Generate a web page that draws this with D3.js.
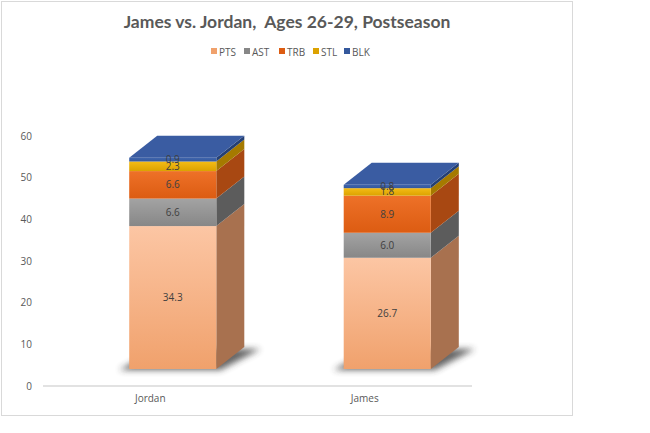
<!DOCTYPE html>
<html>
<head>
<meta charset="utf-8">
<script src="https://cdn.jsdelivr.net/npm/d3@7"></script>
<style>
  body { margin: 0; background: #fff; }
  svg { display: block; }
</style>
</head>
<body>
<div id="chart"></div>
<script>
// Chart data
const players = ["Jordan", "James"];
const statKeys = ["PTS", "AST", "TRB", "STL", "BLK"];
const ptsValues = [34.3, 26.7];
const astValues = [6.6, 6.0];
const trbValues = [6.6, 8.9];
const stlValues = [2.3, 1.8];
const blkValues = [0.9, 0.8];
const yTicks = [0, 10, 20, 30, 40, 50, 60];

const width = 650, height = 433;

// Face colours per stat: front (top / bottom of gradient), side, top
const faceColors = {
    PTS: { front: ["#fcc6a4", "#f0a16c"], side: "#a8714f", top: "#f7b589" },
    AST: { front: ["#a3a3a3", "#878787"], side: "#5c5c5c", top: "#9a9a9a" },
    TRB: { front: ["#ee7128", "#dc5c12"], side: "#a84812", top: "#e8661c" },
    STL: { front: ["#f4bc16", "#dca200"], side: "#a57a00", top: "#e8b000" },
    BLK: { front: ["#4065ad", "#34589c"], side: "#243f73", top: "#3a5ca2" }
};

const table = players.map((p, i) => ({
    player: p,
    PTS: ptsValues[i], AST: astValues[i], TRB: trbValues[i],
    STL: stlValues[i], BLK: blkValues[i]
}));

const svg = d3.select("#chart").append("svg")
    .attr("width", width)
    .attr("height", height);

// Chart border
svg.append("rect")
    .attr("x", 1.5).attr("y", 1.5)
    .attr("width", 571).attr("height", 414)
    .attr("fill", "#fff")
    .attr("stroke", "#d9d9d9");

const plot = { left: 43, right: 472, bottom: 386, top: 136 };

const xScale = d3.scaleBand()
    .domain(players)
    .range([plot.left, plot.right])
    .paddingInner(0.594)
    .paddingOuter(0.297);

const yScale = d3.scaleLinear()
    .domain([0, 60])
    .range([plot.bottom, plot.top]);

// 3D projection offsets
const front = { dx: 22.5, dy: -17 };   // front face relative to axis plane
const depth = { dx: 28, dy: -22 };     // back face relative to front face

const defs = svg.append("defs");
statKeys.forEach(k => {
    const g = defs.append("linearGradient")
        .attr("id", "grad-" + k)
        .attr("x1", 0).attr("y1", 0).attr("x2", 0).attr("y2", 1);
    g.append("stop").attr("offset", "0%").attr("stop-color", faceColors[k].front[0]);
    g.append("stop").attr("offset", "100%").attr("stop-color", faceColors[k].front[1]);
});
defs.append("filter")
    .attr("id", "blur")
    .attr("x", "-30%").attr("y", "-30%").attr("width", "160%").attr("height", "160%")
    .append("feGaussianBlur").attr("stdDeviation", 3);

// Title
svg.append("text")
    .attr("x", 287)
    .attr("y", 28)
    .attr("text-anchor", "middle")
    .style("font-family", "Lato, 'Open Sans', sans-serif")
    .style("font-weight", "bold")
    .style("font-size", "17.5px")
    .style("fill", "#595959")
    .style("white-space", "pre")
    .text("James vs. Jordan,  Ages 26-29, Postseason");

// Legend
const legendX = [211, 244, 279, 313, 344];
const legend = svg.append("g");
statKeys.forEach((k, i) => {
    legend.append("rect")
        .attr("x", legendX[i]).attr("y", 48)
        .attr("width", 6).attr("height", 6)
        .attr("fill", faceColors[k].front[1]);
    legend.append("text")
        .attr("x", legendX[i] + 8).attr("y", 55.5)
        .style("font-family", "'Open Sans', sans-serif")
        .style("font-size", "10px")
        .style("fill", "#595959")
        .text(k);
});

// Y axis
const yAxis = svg.append("g")
    .attr("transform", `translate(35, 0)`)
    .call(d3.axisLeft(yScale).tickValues(yTicks).tickSize(0).tickPadding(3));
yAxis.select(".domain").remove();
yAxis.selectAll("text")
    .style("font-family", "'Open Sans', sans-serif")
    .style("font-size", "10px")
    .style("fill", "#595959");

// Floor line
svg.append("line")
    .attr("x1", plot.left).attr("x2", plot.right)
    .attr("y1", plot.bottom).attr("y2", plot.bottom)
    .attr("stroke", "#d9d9d9")
    .attr("stroke-width", 1.5);

// Category labels
const xAxis = svg.append("g")
    .attr("transform", `translate(0, ${plot.bottom})`)
    .call(d3.axisBottom(xScale).tickSize(0).tickPadding(9));
xAxis.select(".domain").remove();
xAxis.selectAll("text")
    .style("font-family", "'Open Sans', sans-serif")
    .style("font-size", "10px")
    .style("fill", "#595959");

const series = d3.stack().keys(statKeys)(table);
const bw = xScale.bandwidth();
const fx = d => xScale(d.data.player) + front.dx;
const fy = v => yScale(v) + front.dy;

// Floor shadows
const base = yScale(0) + front.dy;
svg.append("g").selectAll("polygon")
    .data(table)
    .join("polygon")
    .attr("points", d => {
        const x0 = xScale(d.player) + front.dx;
        return [
            [x0 - 10, base + 1], [x0 + bw + 4, base + 1],
            [x0 + bw + depth.dx + 16, base + depth.dy + 2],
            [x0 + depth.dx, base + depth.dy + 2]
        ].join(" ");
    })
    .attr("fill", "#333")
    .attr("opacity", 0.75)
    .attr("filter", "url(#blur)");

const bars = svg.append("g");

// Side faces
series.forEach(s => {
    bars.append("g").selectAll("polygon")
        .data(s)
        .join("polygon")
        .attr("points", d => {
            const xr = fx(d) + bw;
            return [
                [xr, fy(d[1])], [xr + depth.dx, fy(d[1]) + depth.dy],
                [xr + depth.dx, fy(d[0]) + depth.dy], [xr, fy(d[0])]
            ].join(" ");
        })
        .attr("fill", faceColors[s.key].side);
});

// Front faces
series.forEach(s => {
    bars.append("g").selectAll("rect")
        .data(s)
        .join("rect")
        .attr("x", d => fx(d))
        .attr("y", d => fy(d[1]))
        .attr("width", bw)
        .attr("height", d => fy(d[0]) - fy(d[1]))
        .attr("fill", `url(#grad-${s.key})`);
});

// Top face of each bar
const topSeries = series[series.length - 1];
bars.append("g").selectAll("polygon")
    .data(topSeries)
    .join("polygon")
    .attr("points", d => {
        const x0 = fx(d), y0 = fy(d[1]);
        return [
            [x0, y0], [x0 + bw, y0],
            [x0 + bw + depth.dx, y0 + depth.dy], [x0 + depth.dx, y0 + depth.dy]
        ].join(" ");
    })
    .attr("fill", faceColors[topSeries.key].top);

// Data labels (thin top segments overlap, as in the original chart)
series.forEach(s => {
    bars.append("g").selectAll("text")
        .data(s)
        .join("text")
        .attr("x", d => fx(d) + bw / 2)
        .attr("y", d => (fy(d[0]) + fy(d[1])) / 2)
        .attr("dy", "0.35em")
        .attr("text-anchor", "middle")
        .style("font-family", "'Open Sans', sans-serif")
        .style("font-size", "10px")
        .style("fill", "#404040")
        .text(d => (d[1] - d[0]).toFixed(1));
});
</script>
</body>
</html>
